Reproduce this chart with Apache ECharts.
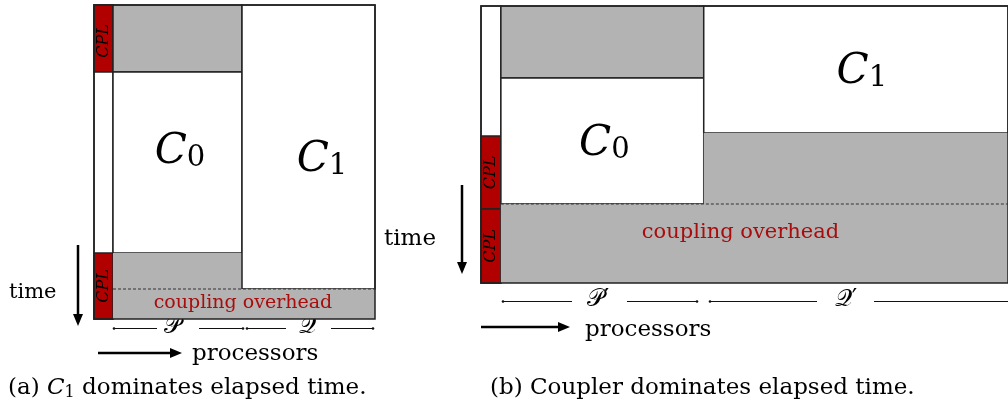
<!DOCTYPE html>
<html><head><meta charset="utf-8">
<script src="https://cdn.jsdelivr.net/npm/echarts@6/dist/echarts.min.js"></script>
<style>html,body{margin:0;padding:0;background:#fff}#c{width:1008px;height:405px}</style>
</head><body><div id="c"></div>
<script>
// Panel (a): blocks in [x0, x1, t0, t1, fill, stroke] (processor units, time units)
const panelA_blocks = [
  [0, 19, 0, 314, 'white', 1],
  [0, 19, 0, 67, 'red', 1],
  [0, 19, 248, 314, 'red', 1],
  [19, 148, 0, 67, 'gray', 1],
  [19, 148, 67, 248, 'white', 1],
  [19, 148, 248, 284, 'gray', 0],
  [148, 281, 0, 284, 'white', 1],
  [19, 281, 284, 314, 'gray', 0],
  [0, 281, 0, 314, 'none', 1]
];
const panelA_dashed = [[19, 281, 284]];
const panelA_labels = [
  ['C', '0', 86, 145, 'big'],
  ['C', '1', 228, 153, 'big'],
  ['coupling overhead', '', 149, 298, 'over'],
  ['CPL', '', 9.5, 36, 'cpl'],
  ['CPL', '', 9.5, 281, 'cpl']
];
// Panel (b)
const panelB_blocks = [
  [0, 20, 0, 277, 'white', 1],
  [0, 20, 130, 203, 'red', 1],
  [0, 20, 203, 277, 'red', 1],
  [20, 224, 0, 72, 'gray', 1],
  [20, 224, 72, 198, 'white', 1],
  [224, 530, 0, 127, 'white', 1],
  [224, 530, 127, 198, 'gray', 0],
  [20, 530, 198, 277, 'gray', 0],
  [0, 530, 0, 277, 'none', 1]
];
const panelB_dashed = [[20, 530, 198]];
const panelB_labels = [
  ['C', '0', 124, 136, 'big'],
  ['C', '1', 383, 64, 'big'],
  ['coupling overhead', '', 261, 227, 'over2'],
  ['CPL', '', 10, 166.5, 'cpl'],
  ['CPL', '', 10, 240, 'cpl']
];

const FILL = {white: '#ffffff', red: '#b00000', gray: '#b3b3b3', none: 'transparent'};
const SERIF = '"DejaVu Serif", serif';

function blockSeries(blocks, gi) {
  return {
    type: 'custom', xAxisIndex: gi, yAxisIndex: gi, clip: false, silent: true,
    data: blocks.map(b => [b[0], b[1], b[2], b[3]]),
    renderItem: function (params, api) {
      const b = blocks[params.dataIndex];
      const p0 = api.coord([b[0], b[2]]);
      const p1 = api.coord([b[1], b[3]]);
      return {
        type: 'rect',
        shape: {x: p0[0], y: p0[1], width: p1[0] - p0[0], height: p1[1] - p0[1]},
        style: {fill: FILL[b[4]], stroke: b[5] ? '#222' : null, lineWidth: b[5] ? 1.5 : 0}
      };
    }
  };
}
function dashSeries(lines, gi) {
  return {
    type: 'custom', xAxisIndex: gi, yAxisIndex: gi, clip: false, silent: true, z: 3,
    data: lines.map(l => [l[0], l[1], l[2]]),
    renderItem: function (params, api) {
      const l = lines[params.dataIndex];
      const a = api.coord([l[0], l[2]]), b = api.coord([l[1], l[2]]);
      return {type: 'line', shape: {x1: a[0], y1: a[1], x2: b[0], y2: b[1]},
        style: {stroke: '#333', lineWidth: 1, lineDash: [3, 2]}};
    }
  };
}
function labelSeries(labels, gi) {
  return {
    type: 'custom', xAxisIndex: gi, yAxisIndex: gi, clip: false, silent: true, z: 4,
    data: labels.map(l => [l[2], l[3]]),
    renderItem: function (params, api) {
      const l = labels[params.dataIndex];
      const p = api.coord([l[2], l[3]]);
      if (l[4] === 'big') {
        return {type: 'text', x: p[0], y: p[1], style: {
          text: '{c|' + l[0] + '}{s|' + l[1] + '}', align: 'center', verticalAlign: 'middle',
          rich: {c: {font: 'italic 42px ' + SERIF, fill: '#000', verticalAlign: 'bottom', lineHeight: 46},
                 s: {font: '29px ' + SERIF, fill: '#000', verticalAlign: 'bottom', lineHeight: 36}}}};
      }
      if (l[4] === 'over' || l[4] === 'over2') {
        return {type: 'text', x: p[0], y: p[1], style: {text: l[0],
          font: (l[4] === 'over' ? '19px ' : '21px ') + SERIF,
          fill: '#a80c0c', align: 'center', verticalAlign: 'middle'}};
      }
      return {type: 'text', x: p[0], y: p[1], rotation: Math.PI / 2, style: {text: l[0],
        font: 'italic 16px ' + SERIF, fill: '#000', align: 'center', verticalAlign: 'middle'}};
    }
  };
}

// annotation helpers (pixel graphics)
function arrow(x1, y1, x2, y2) {
  const dx = x2 - x1, dy = y2 - y1, len = Math.hypot(dx, dy), ux = dx / len, uy = dy / len;
  const hl = 12, hw = 5;
  const bx = x2 - ux * hl, by = y2 - uy * hl;
  return [
    {type: 'line', shape: {x1: x1, y1: y1, x2: bx, y2: by}, style: {stroke: '#000', lineWidth: 2.5}},
    {type: 'polygon', shape: {points: [[x2, y2], [bx - uy * hw, by + ux * hw], [bx + uy * hw, by - ux * hw]]}, style: {fill: '#000'}}
  ];
}
function txt(x, y, t, font, align, rich) {
  const s = {text: t, x: x, y: y, font: font, fill: '#000', align: align || 'left', verticalAlign: 'middle'};
  if (rich) s.rich = rich;
  return {type: 'text', style: s};
}
function seg(x1, x2, y) {
  return [{type: 'line', shape: {x1: x1, y1: y + 0.5, x2: x2, y2: y + 0.5}, style: {stroke: '#111', lineWidth: 1}}];
}
function tick(x, y) {
  return {type: 'circle', shape: {cx: x, cy: y + 0.5, r: 1.3}, style: {fill: '#111'}};
}

const capRich = {n: {font: '23px ' + SERIF, fill: '#000'}, i: {font: 'italic 23px ' + SERIF, fill: '#000'},
  s: {font: '16px ' + SERIF, fill: '#000', verticalAlign: 'bottom', padding: [9, 0, 0, 0]}};
const SCRIPT = '24px ' + SERIF;

let g = [];
// panel a annotations
g = g.concat(arrow(78, 245, 78, 326), arrow(98, 353, 182, 353));
g.push(txt(9, 293, 'time', '21px ' + SERIF));
g.push(txt(192, 354, 'processors', '23px ' + SERIF));
g = g.concat(seg(114, 157, 328), seg(199, 243, 328), seg(247, 286, 328), seg(331, 373, 328));
g.push(tick(114, 328), tick(243, 328), tick(247, 328), tick(373, 328));
g.push(txt(172, 327, '𝒫', SCRIPT, 'center'));
g.push(txt(307, 327, '𝒬', SCRIPT, 'center'));
g.push(txt(8, 388, '{n|(a) }{i|C}{s|1}{n| dominates elapsed time.}', '23px ' + SERIF, 'left', capRich));
// panel b annotations
g = g.concat(arrow(481, 327, 570, 327), arrow(462, 185, 462, 274));
g.push(txt(384, 239, 'time', '23px ' + SERIF));
g.push(txt(585, 330, 'processors', '23px ' + SERIF));
g = g.concat(seg(503, 572, 301), seg(627, 697, 301), seg(710, 817, 301), seg(874, 1008, 301));
g.push(tick(503, 301), tick(697, 301), tick(710, 301));
g.push(txt(598, 300, '𝒫′', SCRIPT, 'center'));
g.push(txt(846, 300, '𝒬′', SCRIPT, 'center'));
g.push(txt(490, 388, '(b) Coupler dominates elapsed time.', '23px ' + SERIF));

const chart = echarts.init(document.getElementById('c'), null, {renderer: 'canvas'});
chart.setOption({
  animation: false,
  backgroundColor: '#fff',
  grid: [
    {left: 94, top: 5, width: 281, height: 314},
    {left: 481, top: 6, width: 530, height: 277}
  ],
  xAxis: [
    {gridIndex: 0, type: 'value', min: 0, max: 281, show: false},
    {gridIndex: 1, type: 'value', min: 0, max: 530, show: false}
  ],
  yAxis: [
    {gridIndex: 0, type: 'value', min: 0, max: 314, inverse: true, show: false},
    {gridIndex: 1, type: 'value', min: 0, max: 277, inverse: true, show: false}
  ],
  series: [
    blockSeries(panelA_blocks, 0), dashSeries(panelA_dashed, 0), labelSeries(panelA_labels, 0),
    blockSeries(panelB_blocks, 1), dashSeries(panelB_dashed, 1), labelSeries(panelB_labels, 1)
  ],
  graphic: g
});
</script></body></html>
